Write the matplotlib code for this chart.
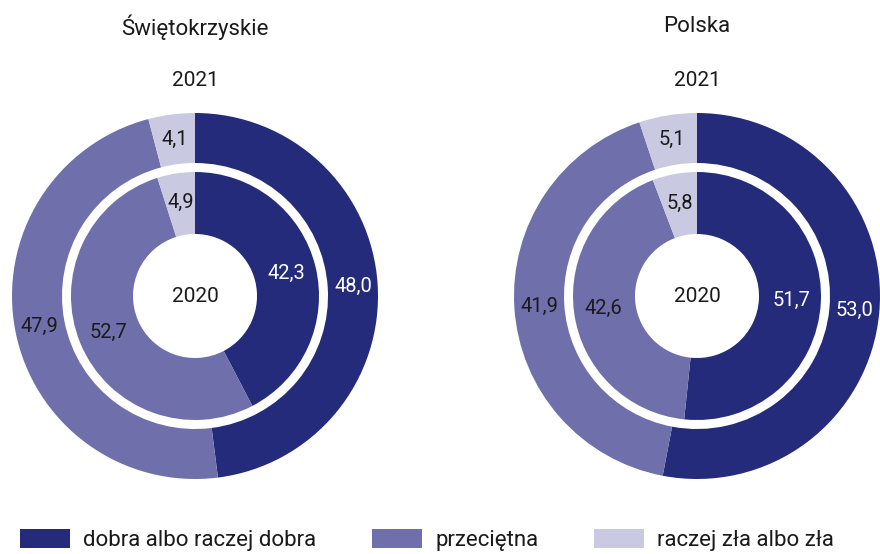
import matplotlib
matplotlib.use("Agg")
import matplotlib.pyplot as plt
from matplotlib.patches import Patch

plt.rcParams['font.family'] = ['Roboto', 'DejaVu Sans']

regions = ["Świętokrzyskie", "Polska"]
categories = ["dobra albo raczej dobra", "przeciętna", "raczej zła albo zła"]
vals_2021 = [[48.0, 47.9, 4.1], [53.0, 41.9, 5.1]]
vals_2020 = [[42.3, 52.7, 4.9], [51.7, 42.6, 5.8]]
year_outer = "2021"
year_inner = "2020"

colors = ["#232b7a", "#6f6fab", "#c9c9e2"]
label_colors = ["white", "#1a1a1a", "#1a1a1a"]

fig = plt.figure(figsize=(8.8, 5.54), dpi=100)
ax = fig.add_axes([0, 0, 1, 1])
ax.set_xlim(0, 880)
ax.set_ylim(0, 554)
ax.set_aspect('equal')
ax.axis('off')

centers = [(195, 554 - 296), (697, 554 - 296)]
R_out, W_out = 183, 50
R_in, W_in = 124, 62

def fmt(v):
    return f"{v:.1f}".replace(".", ",")

for i, name in enumerate(regions):
    cx, cy = centers[i]
    for vals, r, w, ld in [(vals_2021[i], R_out, W_out, 0.865),
                           (vals_2020[i], R_in, W_in, 0.76)]:
        wedges, texts = ax.pie(vals, colors=colors, radius=r, center=(cx, cy),
                               startangle=90, counterclock=False,
                               labels=[fmt(v) for v in vals], labeldistance=ld,
                               wedgeprops=dict(width=w, linewidth=0),
                               textprops=dict(fontsize=14.5))
        for t, c in zip(texts, label_colors):
            t.set_ha('center')
            t.set_va('center')
            t.set_color(c)
    ax.text(cx, 554 - 27, name, ha='center', va='center', fontsize=16, color="#1a1a1a")
    ax.text(cx, 554 - 80, year_outer, ha='center', va='center', fontsize=15, color="#1a1a1a")
    ax.text(cx, cy, year_inner, ha='center', va='center', fontsize=15, color="#1a1a1a")

ax.set_xlim(0, 880)
ax.set_ylim(0, 554)

handles = [Patch(facecolor=c, edgecolor='none') for c in colors]
fs = 16
pad = 0.4 * fs * 100 / 72
fig.legend(handles, categories, loc='center left',
           bbox_to_anchor=((20 - pad) / 880, 1 - 540 / 554),
           ncol=3, frameon=False, fontsize=fs, handlelength=2.25, handleheight=0.9,
           handletextpad=0.6, columnspacing=2.5, borderaxespad=0,
           labelcolor="#1a1a1a")

fig.savefig("out.png", dpi=100)
